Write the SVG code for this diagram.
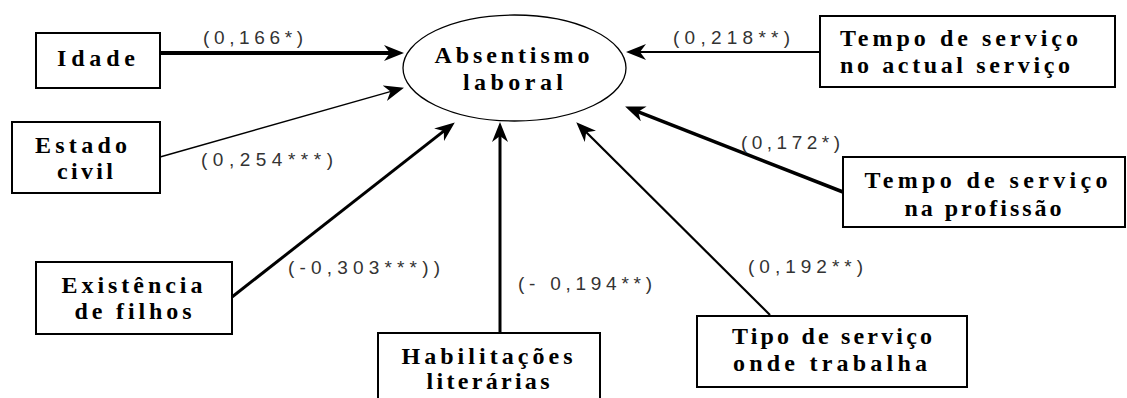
<svg xmlns="http://www.w3.org/2000/svg" width="1127" height="398" viewBox="0 0 1127 398">
<style>
.box{fill:#fff;stroke:#000;stroke-width:2}
.t{font-family:"Liberation Serif",serif;font-weight:bold;font-size:24px;fill:#000;text-anchor:middle}
.lbl{font-family:"Liberation Sans",Arial,sans-serif;font-size:19px;fill:#333}
.c{stroke:#000;fill:none}
</style>
<defs>
<marker id="ah" viewBox="0 0 20 16" refX="14" refY="8" markerWidth="20" markerHeight="16" markerUnits="userSpaceOnUse" orient="auto">
<path d="M0,0 L20,8 L0,16 L6,8 Z" fill="#000"/>
</marker>
</defs>
<rect width="1127" height="398" fill="#fff"/>
<g id="connectors">
<line class="c" x1="160" y1="53" x2="398" y2="53" stroke-width="4" marker-end="url(#ah)"/>
<line class="c" x1="160" y1="157" x2="398.2" y2="89.4" stroke-width="1.5" marker-end="url(#ah)"/>
<line class="c" x1="232" y1="297" x2="450.1" y2="126.1" stroke-width="3" marker-end="url(#ah)"/>
<line class="c" x1="500" y1="333" x2="500" y2="128" stroke-width="3" marker-end="url(#ah)"/>
<line class="c" x1="770" y1="315" x2="580.5" y2="126.5" stroke-width="2.2" marker-end="url(#ah)"/>
<line class="c" x1="843" y1="192" x2="630.7" y2="108.8" stroke-width="3.5" marker-end="url(#ah)"/>
<line class="c" x1="820" y1="52" x2="632" y2="52" stroke-width="2" marker-end="url(#ah)"/>
<text class="lbl" x="203" y="44" textLength="100">(0,166*)</text>
<text class="lbl" x="201" y="166" textLength="132">(0,254***)</text>
<text class="lbl" x="673" y="44" textLength="117">(0,218**)</text>
<text class="lbl" x="741" y="149" textLength="99">(0,172*)</text>
<text class="lbl" x="288" y="274" textLength="152">(-0,303***))</text>
<text class="lbl" x="518" y="290" textLength="134">(- 0,194**)</text>
<text class="lbl" x="748" y="273" textLength="115">(0,192**)</text>
</g>
<g id="absentismo">
<ellipse cx="514.5" cy="68" rx="111.5" ry="53" fill="#fff" stroke="#000" stroke-width="1.3"/>
<text class="t" x="512" y="63" textLength="155">Absentismo</text>
<text class="t" x="513" y="90" textLength="100">laboral</text>
</g>
<g id="idade">
<rect class="box" x="36" y="33" width="124" height="55"/>
<text class="t" x="96" y="66" textLength="78">Idade</text>
</g>
<g id="estado-civil">
<rect class="box" x="12" y="122" width="148" height="71"/>
<text class="t" x="81" y="153" textLength="92">Estado</text>
<text class="t" x="85" y="179" textLength="56">civil</text>
</g>
<g id="existencia-filhos">
<rect class="box" x="36" y="262" width="196" height="72"/>
<text class="t" x="132" y="293" textLength="141">Existência</text>
<text class="t" x="133" y="319" textLength="117">de filhos</text>
</g>
<g id="habilitacoes">
<rect class="box" x="378" y="333" width="222" height="70"/>
<text class="t" x="487" y="364" textLength="171">Habilitações</text>
<text class="t" x="488" y="389" textLength="123">literárias</text>
</g>
<g id="tipo-servico">
<rect class="box" x="697" y="316" width="270" height="71"/>
<text class="t" x="832" y="344" textLength="200">Tipo de serviço</text>
<text class="t" x="830" y="371" textLength="194">onde trabalha</text>
</g>
<g id="tempo-profissao">
<rect class="box" x="843" y="157" width="282" height="70"/>
<text class="t" x="986" y="188" textLength="243">Tempo de serviço</text>
<text class="t" x="983" y="216" textLength="157">na profissão</text>
</g>
<g id="tempo-actual">
<rect class="box" x="820" y="16" width="295" height="71"/>
<text class="t" x="840" y="46" textLength="238" style="text-anchor:start">Tempo de serviço</text>
<text class="t" x="840" y="73" textLength="230" style="text-anchor:start">no actual serviço</text>
</g>
</svg>
